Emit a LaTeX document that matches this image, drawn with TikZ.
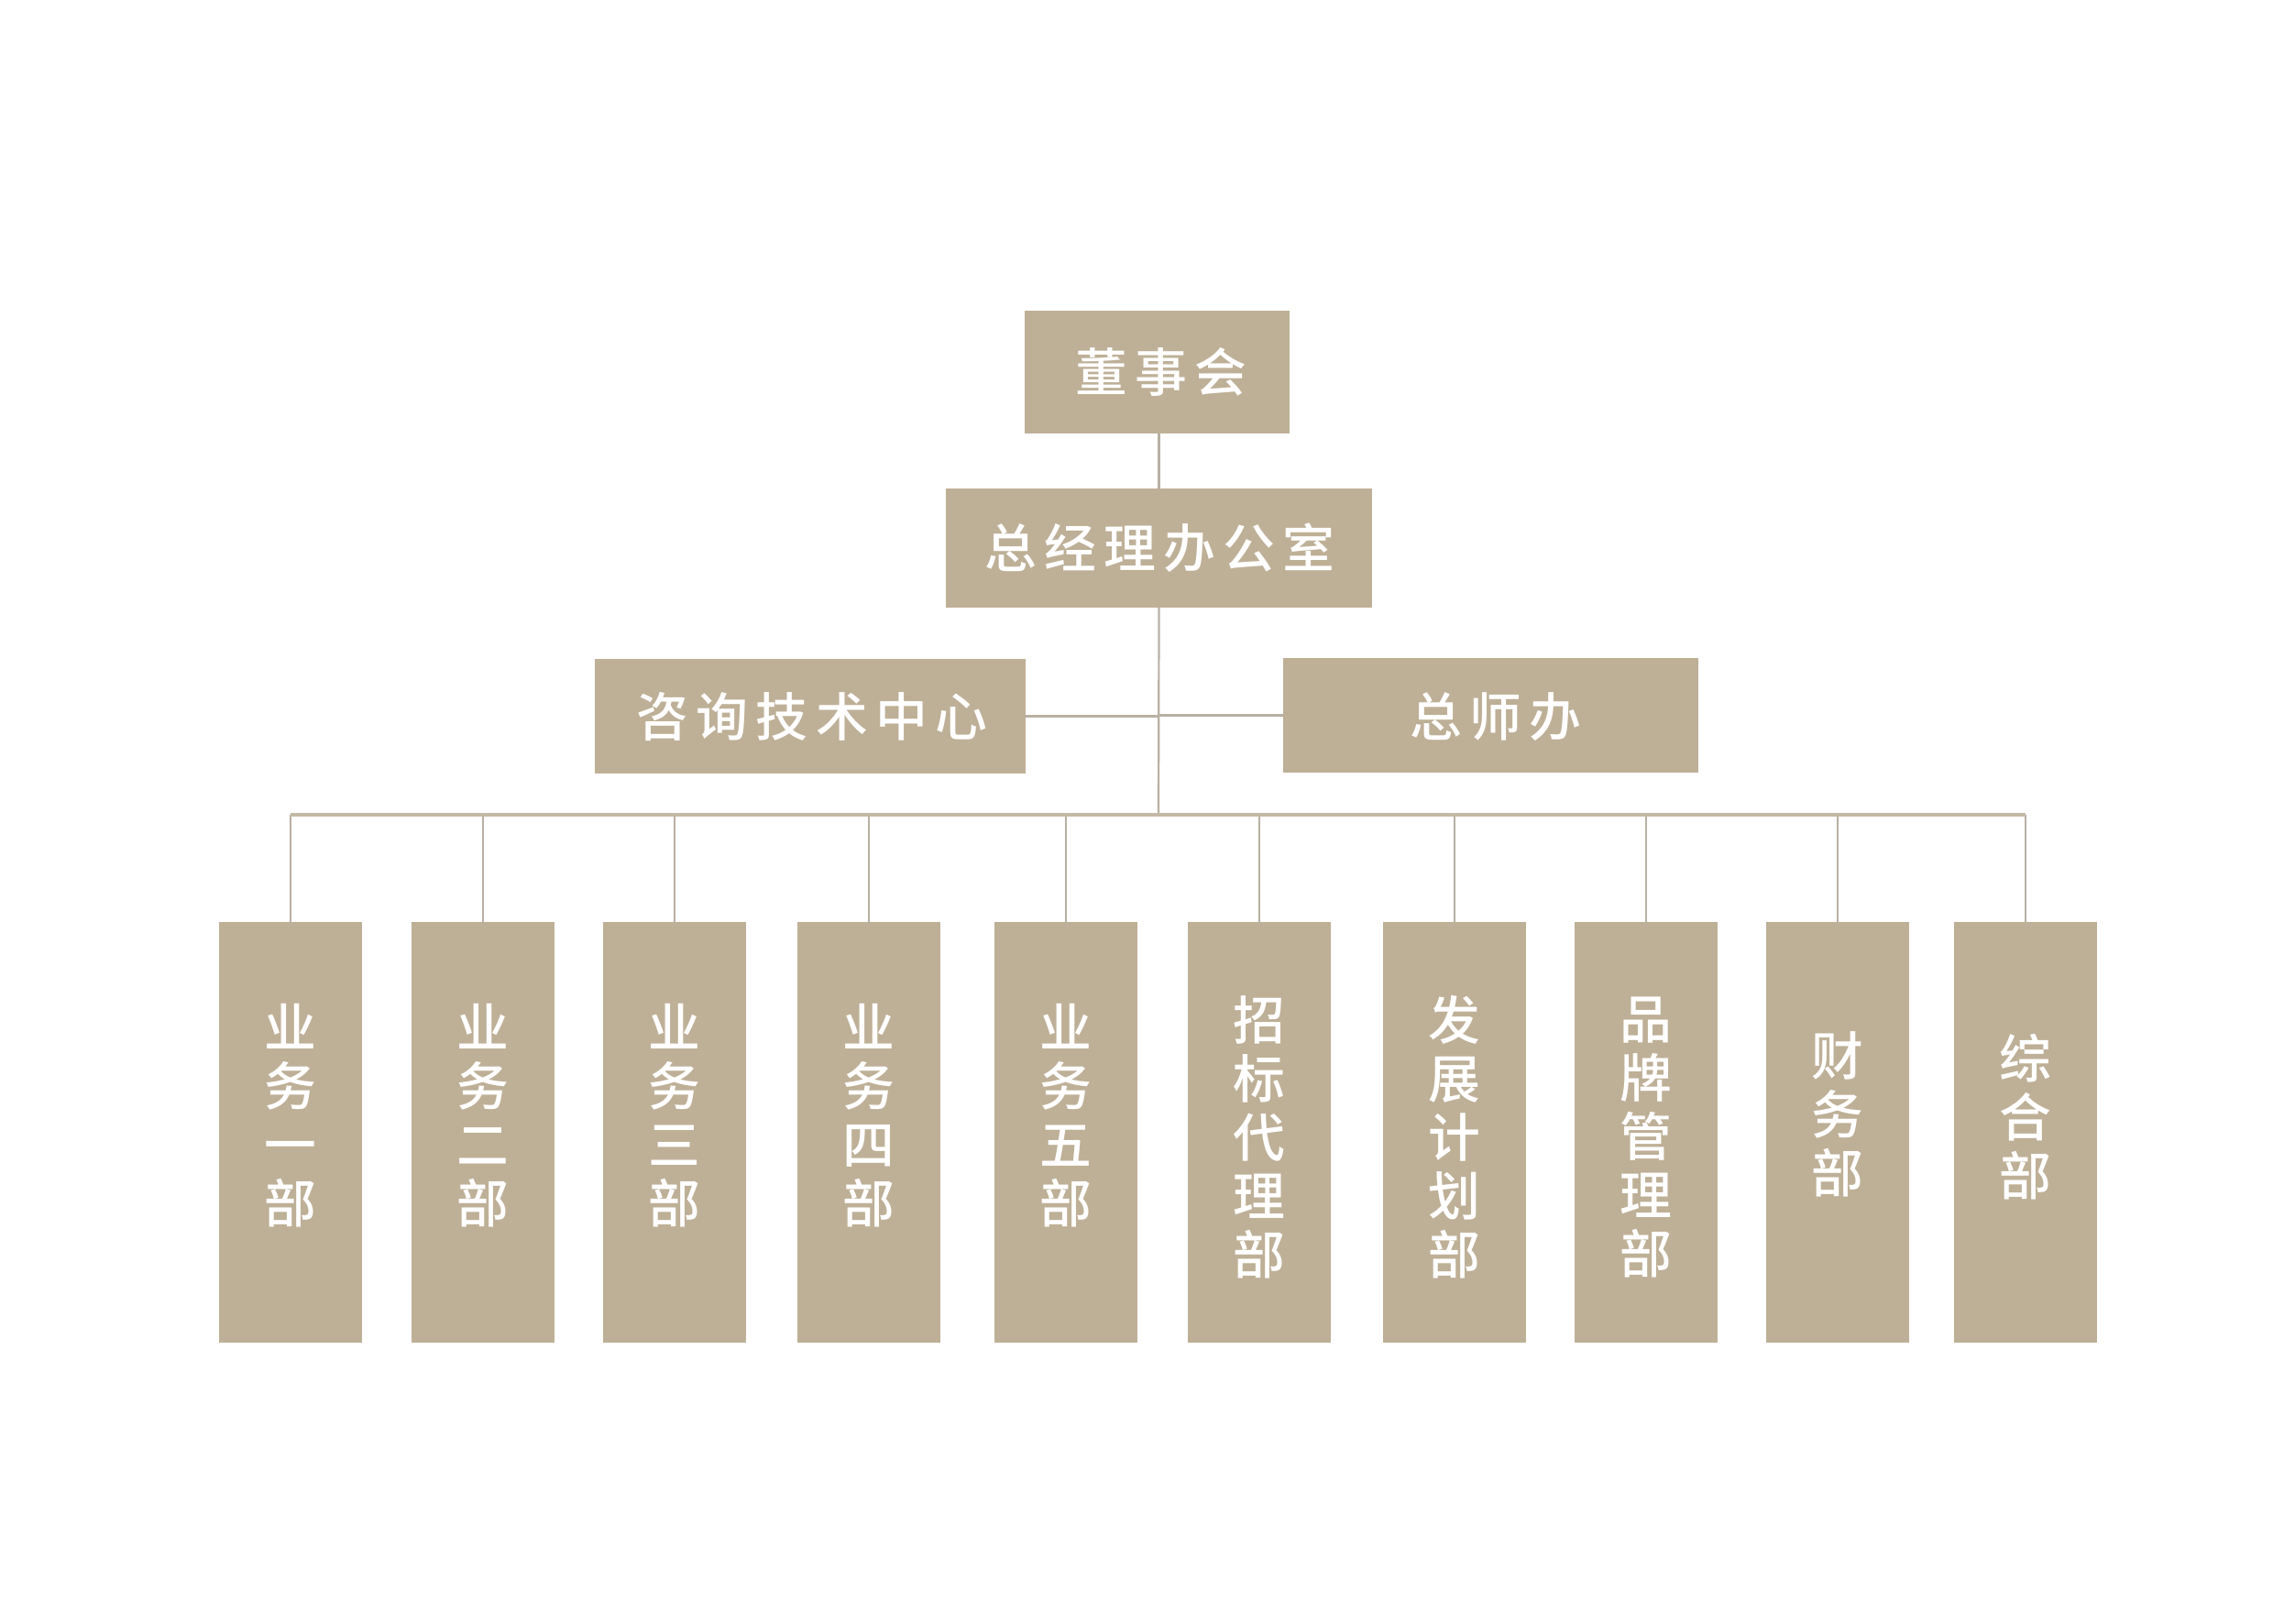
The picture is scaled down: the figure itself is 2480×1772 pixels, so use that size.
\documentclass[tikz,border=0pt]{standalone}
\usepackage{fontspec}
\newfontfamily\cjk{Noto Sans CJK SC}[UprightFont=* Medium]
\definecolor{boxfill}{RGB}{190,176,151}
\definecolor{linec}{RGB}{184,176,162}
\definecolor{busc}{RGB}{196,185,165}
\newcommand\gp{\hspace{2.1pt}}
\begin{document}
\begin{tikzpicture}[x=0.25pt,y=-0.25pt,
  box/.style={fill=boxfill,draw=none,inner sep=0pt,outer sep=0pt},
  htext/.style={text=white,inner sep=0pt,font=\cjk\fontsize{14.2pt}{16pt}\selectfont},
  vtext/.style={text=white,inner sep=0pt,align=center,font=\cjk\fontsize{14.2pt}{16pt}\selectfont},
  ln/.style={draw=linec,line width=0.55pt},
  drop/.style={draw=linec,line width=0.4pt},
  bus/.style={draw=busc,line width=0.85pt}]
\fill[white] (0,0) rectangle (2480,1772);
\useasboundingbox (0,0) rectangle (2480,1772);
% top boxes
\node[box,minimum width=289*0.25pt,minimum height=134*0.25pt] (dsh) at (1262.5,406) {};
\node[htext] (tdsh) at (1267,406) {董\gp 事\gp 会};
\node[box,minimum width=465*0.25pt,minimum height=130*0.25pt] (zjl) at (1264.5,598) {};
\node[htext] (tzjl) at (1265.4,597.5) {总\gp 经\gp 理\gp 办\gp 公\gp 室};
\node[box,minimum width=470*0.25pt,minimum height=125*0.25pt] (zx) at (884,781.5) {};
\node[htext] (tzx) at (886,782.5) {咨\gp 询\gp 技\gp 术\gp 中\gp 心};
\node[box,minimum width=453*0.25pt,minimum height=125*0.25pt] (zsb) at (1626.5,780.5) {};
\node[htext] (tzsb) at (1632,782) {总\gp 师\gp 办};
% bottom boxes
\foreach \n/\xl in {1/239,2/449,3/658,4/870,5/1085,6/1296,7/1509,8/1718,9/1927,10/2132}{
  \node[box,minimum width=156*0.25pt,minimum height=459*0.25pt] (b\n) at ({\xl+78},1235.5) {};
}
\node[vtext] (t1) at (b1 |- 0,1217) {业\\务\\一\\部};
\node[vtext] (t2) at (b2 |- 0,1217) {业\\务\\二\\部};
\node[vtext] (t3) at (b3 |- 0,1217) {业\\务\\三\\部};
\node[vtext] (t4) at (b4 |- 0,1217) {业\\务\\四\\部};
\node[vtext] (t5) at (b5 |- 0,1217) {业\\务\\五\\部};
\node[vtext] (t6) at (b6 |- 0,1241) {招\\标\\代\\理\\部};
\node[vtext] (t7) at (b7 |- 0,1241) {发\\展\\计\\划\\部};
\node[vtext] (t8) at (b8 |- 0,1241) {品\\牌\\管\\理\\部};
\node[vtext] (t9) at (b9 |- 0,1216) {财\\务\\部};
\node[vtext] (t10) at (b10 |- 0,1219) {综\\合\\部};
% connectors
\coordinate (bushub) at (1264,889);
\draw[ln] (zjl.north) -- (zjl.north |- dsh.south);
\draw[ln] (zjl.south) -- (bushub);
\draw[ln] (zx.east) -- (zx.east -| bushub);
\draw[ln] (zsb.west) -- (zsb.west -| bushub);
\foreach \n in {1,...,10}{
  \draw[drop] (b\n.north) -- (b\n.north |- bushub);
}
\draw[bus] (b1.north |- bushub) -- (b10.north |- bushub);
\end{tikzpicture}
\end{document}
